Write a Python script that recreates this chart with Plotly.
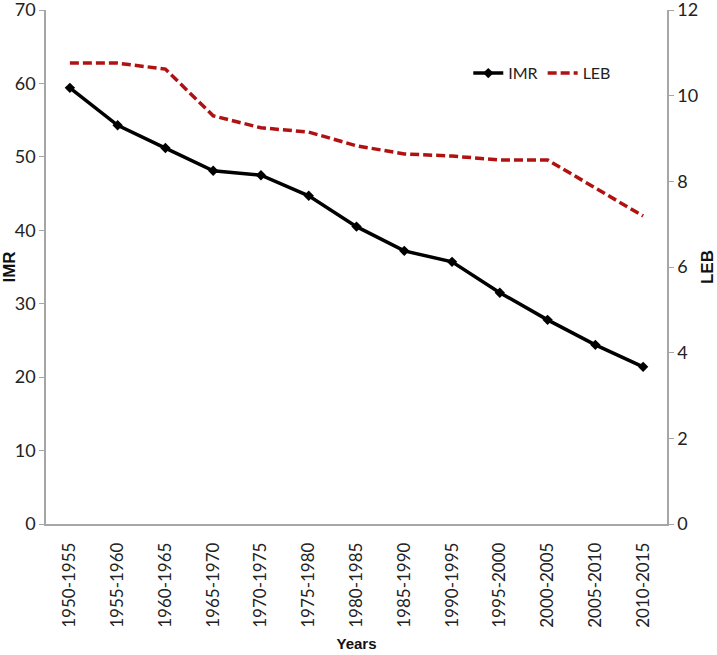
import plotly.graph_objects as go

years = ["1950-1955", "1955-1960", "1960-1965", "1965-1970", "1970-1975", "1975-1980",
         "1980-1985", "1985-1990", "1990-1995", "1995-2000", "2000-2005", "2005-2010", "2010-2015"]
imr = [59.4, 54.3, 51.2, 48.1, 47.5, 44.7, 40.5, 37.2, 35.7, 31.5, 27.8, 24.4, 21.4]
leb = [10.76, 10.76, 10.62, 9.53, 9.25, 9.15, 8.83, 8.64, 8.59, 8.50, 8.50, 7.85, 7.19]

font_fam = "Lato, Open Sans, sans-serif"
axis_col = "#a6a6a6"
ytitle_font = dict(family="Liberation Sans, Arial", size=17, color="#111")
xtitle_font = dict(family="Liberation Sans, Arial", size=15, color="#111")

fig = go.Figure()
fig.add_trace(go.Scatter(x=years, y=imr, name="IMR", mode="lines+markers",
                         line=dict(color="black", width=3.5),
                         marker=dict(symbol="diamond", size=8, color="black")))
fig.add_trace(go.Scatter(x=years, y=leb, name="LEB", mode="lines", yaxis="y2",
                         line=dict(color="#b01212", width=3.5, dash="9px,4px")))

fig.update_layout(
    width=717, height=655,
    margin=dict(l=46, r=50, t=10, b=131, autoexpand=False),
    paper_bgcolor="white", plot_bgcolor="white",
    font=dict(family=font_fam, size=18, color="#222"),
    xaxis=dict(type="category", range=[-0.5, 12.5], showgrid=False, showline=True,
               linecolor=axis_col, linewidth=1.5, ticks="outside", ticklen=10,
               tickcolor="rgba(0,0,0,0)", tickangle=-90, tickfont=dict(size=17),
               automargin=False, ticklabeloverflow="allow",
               title=dict(text="<b>Years</b>", font=xtitle_font, standoff=12)),
    yaxis=dict(range=[0, 70.001], tickvals=[0, 10, 20, 30, 40, 50, 60, 70], showgrid=False,
               zeroline=False, showline=True, automargin=False, ticklabeloverflow="allow",
               linecolor=axis_col, linewidth=1.5, ticks="outside", tickcolor=axis_col, ticklen=5,
               title=dict(text="<b>IMR</b>", font=ytitle_font, standoff=5)),
    yaxis2=dict(range=[0, 12.0002], tickvals=[0, 2, 4, 6, 8, 10, 12], overlaying="y", side="right",
                showgrid=False, zeroline=False, automargin=False, ticklabeloverflow="allow",
                showline=True, linecolor=axis_col, linewidth=1.5, ticks="outside", tickcolor=axis_col,
                ticklen=5,
                title=dict(text="<b>LEB</b>", font=ytitle_font, standoff=4)),
    legend=dict(orientation="h", x=0.68, y=0.877, xanchor="left", yanchor="middle",
                font=dict(size=16), bgcolor="rgba(0,0,0,0)", itemwidth=30, tracegroupgap=0),
    showlegend=True,
)

fig.write_html("out.html", config={"displayModeBar": False},
               post_script="document.body.style.margin='0';")
